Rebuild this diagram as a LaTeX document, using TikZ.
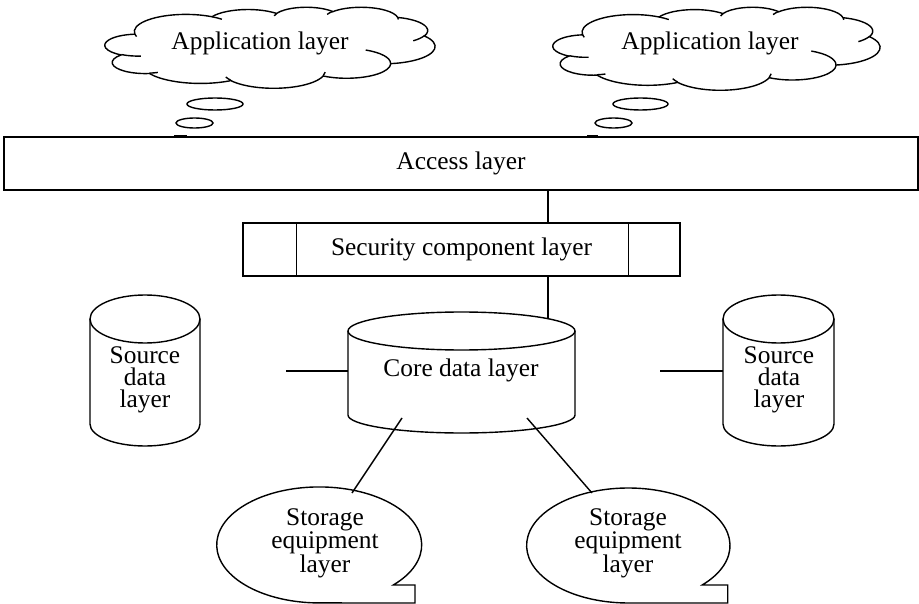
\documentclass[tikz,border=0pt]{standalone}
\usepackage{fontspec}
\setmainfont{Liberation Serif}
\usetikzlibrary{calc}

% Parametric angle of an elliptic arc whose direction angle is #3 (radii #1, #2)
\newcommand\pangle[3]{(#3)+Mod(atan2((#1)*sin(#3),(#2)*cos(#3))-(#3)+180,360)-180}
% Elliptic arc given by radii, start direction and sweep (degrees, y pointing down)
\newcommand\oarc[4]{arc[x radius=#1,y radius=#2,start angle={\pangle{#1}{#2}{#3}},end angle={\pangle{#1}{#2}{(#3)+(#4)}}]}

% Cloud outline in a 432 x 432 box, placed at #1 and scaled by #2 (x) and #3 (y)
\newcommand\cloudat[3]{%
  \begin{scope}[shift={#1},x=#2,y=-#3]
    \draw (39.00,143.70) \oarc{67.53}{91.90}{-190.4875}{123.7805}
      \oarc{53.33}{72.67}{-144.1024}{89.9452}
      \oarc{43.65}{59.45}{-145.8079}{99.7230}
      \oarc{48.57}{65.95}{-130.9861}{117.2417}
      \oarc{53.33}{72.73}{-78.7089}{109.0269}
      \oarc{67.75}{92.20}{-46.2673}{130.2690}
      \oarc{57.85}{78.67}{0.6250}{114.0333}
      \oarc{67.52}{92.15}{22.4516}{115.1726}
      \oarc{77.20}{105.43}{66.2426}{75.7110}
      \oarc{43.60}{59.18}{-274.9421}{146.7356}
      \oarc{43.45}{59.45}{-246.8285}{152.5189} -- cycle;
    \draw (46.93,261.77) \oarc{43.45}{59.45}{86.7420}{26.4295}
      (69.28,348.99) \oarc{43.60}{59.18}{73.6105}{11.4475}
      (164.78,390.90) \oarc{67.52}{92.15}{137.6242}{14.0811}
      (288.27,347.51) \oarc{67.52}{92.15}{6.4533}{15.9984}
      (341.29,229.54) \oarc{57.85}{78.67}{-70.2924}{70.9174}
      (417.98,153.54) \oarc{53.33}{72.73}{30.3180}{27.7515}
      (383.24,54.26) \oarc{48.57}{65.95}{-13.7443}{14.8589}
      (290.78,39.52) \oarc{48.57}{65.95}{-149.1815}{18.1954}
      (221.41,47.20) \oarc{43.65}{59.45}{-163.4943}{17.6864}
      (140.00,51.92) \oarc{67.53}{91.90}{-66.7070}{12.3194}
      (41.27,157.89) \oarc{67.53}{91.90}{157.6544}{11.8582};
  \end{scope}}

\begin{document}
\begin{tikzpicture}[x=1pt,y=-1pt,line width=1.4pt,
  lbl/.style={font=\fontsize{25.4}{22}\selectfont,align=center,inner sep=0pt},
  layerbox/.style={draw,rectangle,inner sep=0pt,font=\fontsize{25.4}{22}\selectfont}]
\useasboundingbox (0,0) rectangle (919,604);

% application layer clouds with thought bubbles
\cloudat{(105,7)}{0.76389pt}{0.1875pt}
\node[lbl] (app1) at (260,43) {Application layer};
\draw (215,104) ellipse[x radius=28,y radius=6];
\draw (194.5,123) ellipse[x radius=18.5,y radius=5];

\cloudat{(553,7)}{0.75694pt}{0.1921pt}
\node[lbl] (app2) at (710,43) {Application layer};
\draw (640.5,104) ellipse[x radius=27.5,y radius=6];
\draw (613.5,123) ellipse[x radius=18.5,y radius=5];

% access layer bar
\node[layerbox,minimum width=914pt,minimum height=53pt] (access) at (461,163.5) {Access layer};
\draw[line width=2.4pt] (174,136) -- (187,136);
\draw[line width=2.4pt] (587,136) -- (598,136);

% security component layer
\node[layerbox,minimum width=437pt,minimum height=53pt] (sec) at (461.5,249.5) {Security component layer};
\draw ([xshift=54pt]sec.north west) -- ([xshift=54pt]sec.south west);
\draw ([xshift=-52pt]sec.north east) -- ([xshift=-52pt]sec.south east);

\coordinate (secTop) at ([xshift=86.5pt]sec.north);
\coordinate (secBot) at ([xshift=86.5pt]sec.south);
\draw (secTop) -- (secTop |- access.south);

% core data layer cylinder
\draw (461.5,331) ellipse[x radius=113.5,y radius=19];
\draw (348,331) -- (348,415) arc[start angle=180,end angle=0,x radius=113.5,y radius=18] -- (575,331);
\node[lbl] (core) at (461,370) {Core data layer};
\coordinate (coreTap) at (548,318.7);
\draw (secBot) -- (coreTap);

% source data layer cylinders
\draw (145,319) ellipse[x radius=55,y radius=24];
\draw (90,319) -- (90,424) arc[start angle=180,end angle=0,x radius=55,y radius=22] -- (200,319);
\node[lbl] (srcL) at (145,380) {Source\\data\\layer};

\draw (778.5,319) ellipse[x radius=55.5,y radius=24];
\draw (723,319) -- (723,424) arc[start angle=180,end angle=0,x radius=55.5,y radius=22] -- (834,319);
\node[lbl] (srcR) at (779,380) {Source\\data\\layer};

\coordinate (coreW) at (348,371);
\coordinate (freeL) at (286,371);
\draw (freeL) -- (coreW);
\coordinate (srcRW) at (723,371);
\coordinate (freeR) at (660,371);
\draw (freeR) -- (srcRW);

% storage equipment callouts
\draw (393.3,585) arc[start angle=43.7,end angle=-270,x radius=102.5,y radius=58] -- (415,603) -- (415,585) -- cycle;
\node[lbl] (stL) at (325,543) {Storage\\equipment\\layer};
\draw (702.2,585) arc[start angle=43.4,end angle=-270,x radius=101.7,y radius=57.5] -- (727.7,603) -- (727.7,585) -- cycle;
\node[lbl] (stR) at (628,543) {Storage\\equipment\\layer};

\coordinate (coreSL) at (402,418);
\coordinate (stLtop) at (352,493);
\draw (coreSL) -- (stLtop);
\coordinate (coreSR) at (527,418);
\coordinate (stRtop) at (592,493);
\draw (coreSR) -- (stRtop);
\end{tikzpicture}
\end{document}
